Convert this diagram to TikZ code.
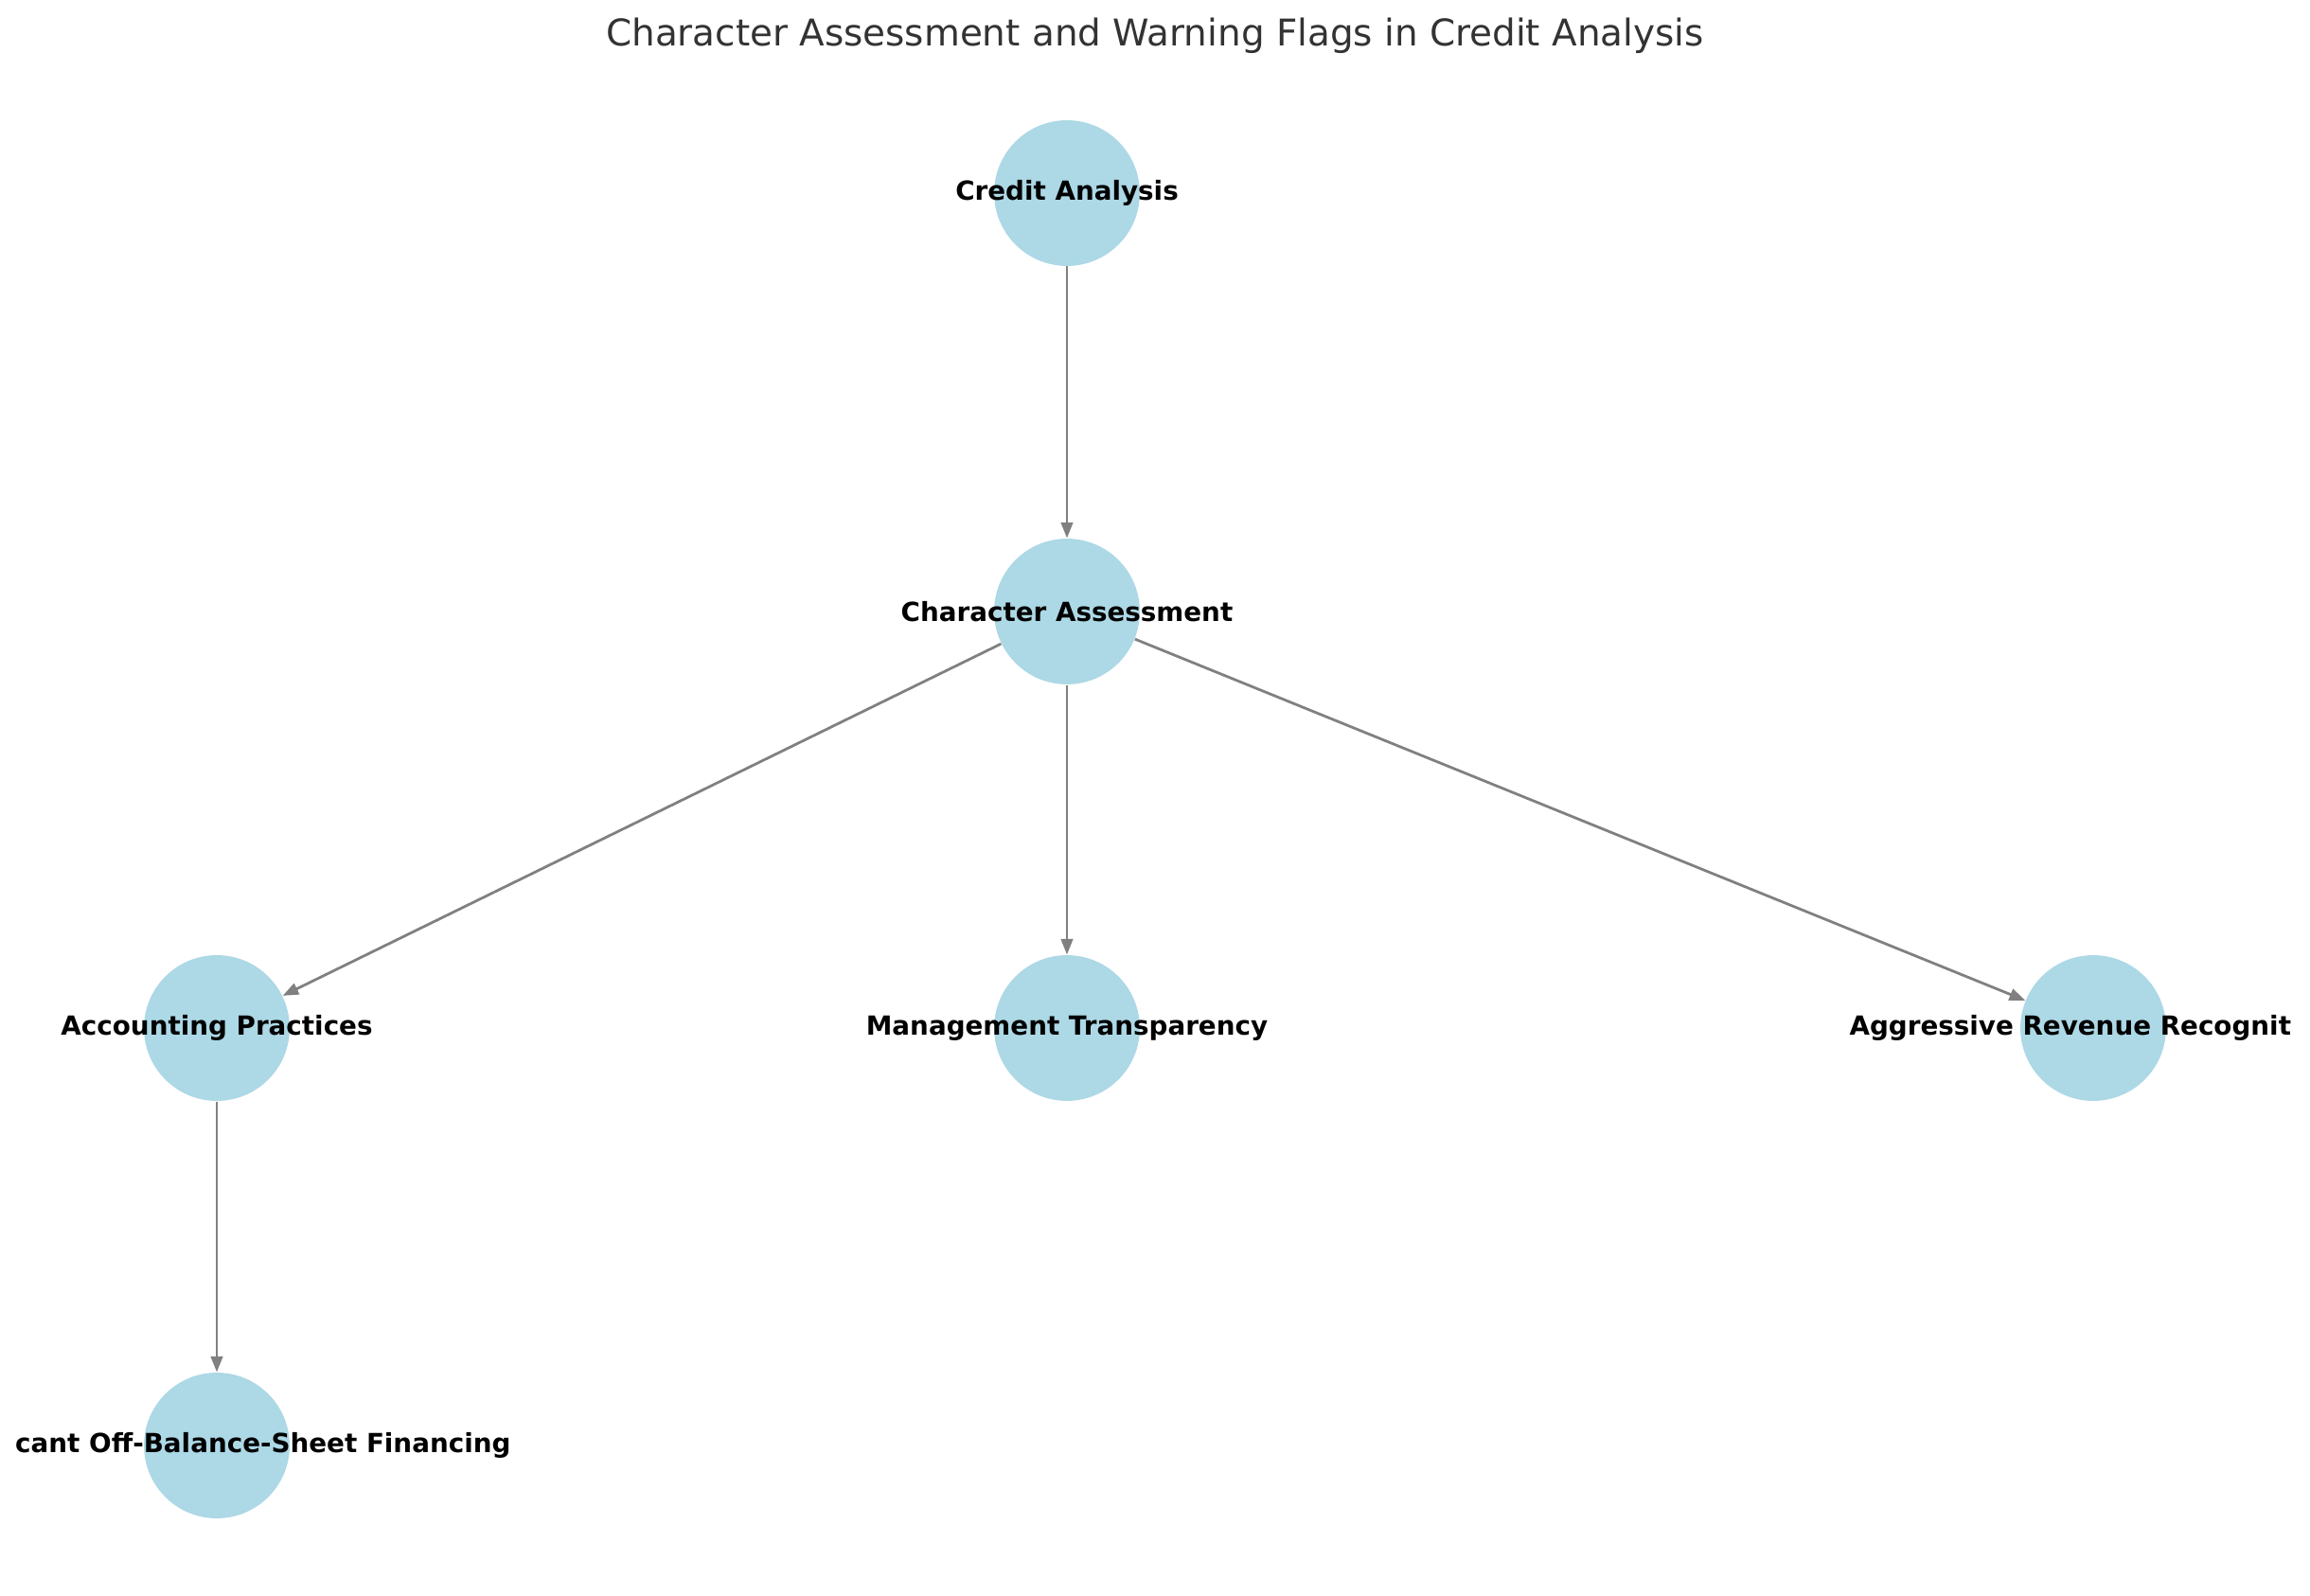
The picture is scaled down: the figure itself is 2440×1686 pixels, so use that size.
\documentclass[tikz,border=0pt]{standalone}
\usepackage{fontspec}
\setmainfont{DejaVu Sans}
\usetikzlibrary{arrows.meta}
\definecolor{nodeblue}{HTML}{ADD8E6}
\definecolor{edgegray}{HTML}{808080}
\definecolor{titlegray}{HTML}{333333}
\tikzset{
  stepnode/.style={circle, fill=nodeblue, draw=none, minimum size=55.4pt, inner sep=0pt},
  lbl/.style={font=\fontsize{10}{12}\selectfont\bfseries, text=black, inner sep=0pt},
  conn/.style={draw=edgegray, line width=1pt, -{Triangle[length=6pt,width=4.5pt]}}
}
\begin{document}
\begin{tikzpicture}[x=0.36pt, y=-0.36pt]
\useasboundingbox (0,0) rectangle (2440,1686);
\clip (0,0) rectangle (2440,1686);
\fill[white] (0,0) rectangle (2440,1686);
\node[font=\fontsize{14}{17}\selectfont, text=titlegray] (title) at (1220,38) {Character Assessment and Warning Flags in Credit Analysis};
\node[stepnode] (ca) at (1127,204) {};
\node[stepnode] (ch) at (1127,646) {};
\node[stepnode] (ap) at (229,1086) {};
\node[stepnode] (mt) at (1127,1086) {};
\node[stepnode] (ar) at (2211,1086) {};
\node[stepnode] (ob) at (229,1527) {};
\node[lbl] (cat) at (ca) {Credit Analysis};
\node[lbl] (cht) at (ch) {Character Assessment};
\node[lbl] (apt) at (ap) {Accounting Practices};
\node[lbl] (mtt) at (mt) {Management Transparency};
\node[lbl, anchor=west] (art) at ([xshift=-258*0.36pt]ar.center) {Aggressive Revenue Recognit};
\node[lbl, anchor=east] (obt) at ([xshift=311*0.36pt]ob.center) {cant Off-Balance-Sheet Financing};
\draw[conn] (ca) -- (ch);
\draw[conn] (ch) -- (ap);
\draw[conn] (ch) -- (mt);
\draw[conn] (ch) -- (ar);
\draw[conn] (ap) -- (ob);
\end{tikzpicture}
\end{document}
